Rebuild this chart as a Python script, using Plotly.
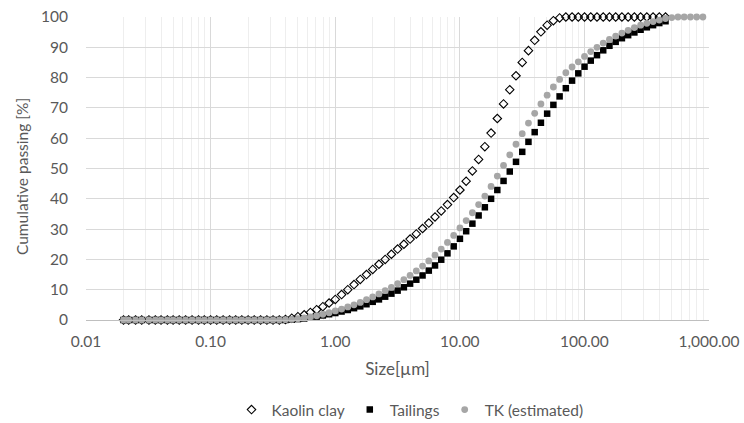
import plotly.graph_objects as go

# Particle size classes [µm]
size_um = [
    0.020, 0.022, 0.025, 0.028, 0.032, 0.036, 0.040, 0.045, 0.050, 0.056,
    0.063, 0.071, 0.080, 0.089, 0.100, 0.112, 0.126, 0.142, 0.159, 0.178,
    0.200, 0.224, 0.252, 0.283, 0.317, 0.356, 0.399, 0.448, 0.502, 0.564,
    0.632, 0.710, 0.796, 0.893, 1.002, 1.125, 1.262, 1.416, 1.589, 1.783,
    2.000, 2.244, 2.518, 2.825, 3.170, 3.557, 3.991, 4.477, 5.024, 5.637,
    6.325, 7.096, 7.962, 8.934, 10.024, 11.247, 12.619, 14.159, 15.887, 17.825,
    20.000, 22.440, 25.179, 28.251, 31.698, 35.566, 39.905, 44.774, 50.238, 56.368,
    63.246, 70.963, 79.621, 89.337, 100.237, 112.468, 126.191, 141.589, 158.866, 178.250,
    200.000, 224.404, 251.785, 282.508, 316.979, 355.656, 399.052, 447.744, 502.377, 563.677,
    632.456, 709.627, 796.214, 893.367,
]

# Cumulative passing [%]
kaolin_clay = [
    0, 0, 0, 0, 0, 0, 0, 0, 0, 0,
    0, 0, 0, 0, 0, 0, 0, 0, 0, 0,
    0, 0, 0, 0, 0, 0, 0.2, 0.6, 1.1, 1.7,
    2.5, 3.4, 4.4, 5.6, 6.8, 8.4, 10.0, 11.7, 13.4, 15.0,
    16.7, 18.4, 20.0, 21.7, 23.4, 25.0, 26.7, 28.4, 30.2, 32.0,
    34.0, 36.0, 38.1, 40.4, 42.9, 45.8, 49.2, 53.0, 57.2, 61.7,
    66.5, 71.3, 76.0, 80.6, 85.0, 88.9, 92.3, 95.1, 97.3, 98.8,
    99.7, 100, 100, 100, 100, 100, 100, 100, 100, 100,
    100, 100, 100, 100, 100, 100, 100, 100,
]

tailings = [
    0, 0, 0, 0, 0, 0, 0, 0, 0, 0,
    0, 0, 0, 0, 0, 0, 0, 0, 0, 0,
    0, 0, 0, 0, 0, 0, 0, 0.1, 0.3, 0.5,
    0.8, 1.1, 1.5, 1.9, 2.3, 2.8, 3.3, 3.9, 4.5, 5.2,
    6.0, 6.8, 7.7, 8.7, 9.7, 10.8, 12.0, 13.3, 14.7, 16.3,
    18.0, 19.9, 22.0, 24.3, 26.8, 29.3, 31.8, 34.5, 37.2, 40.0,
    42.9, 45.9, 49.0, 52.2, 55.5, 58.8, 62.0, 65.1, 68.1, 71.0,
    73.8, 76.5, 79.0, 81.4, 83.6, 85.6, 87.4, 89.0, 90.5, 91.8,
    93.0, 94.0, 94.9, 95.8, 96.6, 97.3, 98.0, 98.6,
]

tk_estimated = [
    0, 0, 0, 0, 0, 0, 0, 0, 0, 0,
    0, 0, 0, 0, 0, 0, 0, 0, 0, 0,
    0, 0, 0, 0, 0, 0, 0.1, 0.2, 0.4, 0.7,
    1.0, 1.4, 1.9, 2.4, 3.0, 3.6, 4.3, 5.0, 5.8, 6.7,
    7.6, 8.6, 9.7, 10.8, 12.0, 13.3, 14.7, 16.2, 17.8, 19.5,
    21.4, 23.4, 25.6, 27.9, 30.4, 32.8, 35.4, 38.1, 40.9, 44.1,
    47.5, 51.0, 54.5, 58.0, 61.5, 65.0, 68.2, 71.3, 74.2, 76.9,
    79.4, 81.6, 83.5, 85.2, 87.0, 88.6, 90.0, 91.4, 92.6, 93.7,
    94.7, 95.6, 96.5, 97.3, 97.9, 98.5, 99.0, 99.5, 99.8, 100,
    100, 100, 100, 100,
]

x_tick_vals = [0.01, 0.1, 1, 10, 100, 1000]
x_tick_text = ["0.01", "0.10", "1.00", "10.00", "100.00", "1,000.00"]
y_tick_vals = [0, 10, 20, 30, 40, 50, 60, 70, 80, 90, 100]

FONT = "Lato"
TEXT = "#595959"

minor_vals = [m * 10 ** e for e in range(-2, 3) for m in range(2, 10)]

fig = go.Figure()
fig.add_trace(go.Scatter(
    x=size_um[:len(kaolin_clay)], y=kaolin_clay, name="Kaolin clay", mode="markers",
    marker=dict(symbol="diamond-open", size=6.5, color="black", line=dict(width=1.1)),
    cliponaxis=False,
))
fig.add_trace(go.Scatter(
    x=size_um[:len(tailings)], y=tailings, name="Tailings", mode="markers",
    marker=dict(symbol="square", size=6.5, color="black"),
    cliponaxis=False,
))
fig.add_trace(go.Scatter(
    x=size_um[:len(tk_estimated)], y=tk_estimated, name="TK (estimated)", mode="markers",
    marker=dict(symbol="circle", size=6.8, color="#a6a6a6"),
    cliponaxis=False,
))

fig.update_layout(
    width=744, height=423,
    margin=dict(l=86, r=35, t=17, b=103, autoexpand=False),
    paper_bgcolor="white", plot_bgcolor="white",
    font=dict(family=FONT, size=15, color=TEXT),
    showlegend=True,
    legend=dict(
        orientation="h", x=410 / 744, xanchor="center", xref="container",
        y=1 - 410 / 423, yanchor="middle", yref="container",
        font=dict(family=FONT, size=15.5, color=TEXT),
        itemwidth=30, tracegroupgap=0,
    ),
    annotations=[dict(
        text="Cumulative passing [%]", textangle=-90,
        xref="paper", yref="paper", x=-64 / 623, y=(320 - 177) / 303,
        xanchor="center", yanchor="middle", showarrow=False,
        font=dict(family=FONT, size=15.5, color=TEXT),
    )],
)
fig.update_xaxes(
    type="log", range=[-2, 3], automargin=False,
    tickmode="array", tickvals=x_tick_vals, ticktext=x_tick_text,
    showgrid=True, gridcolor="#d9d9d9", gridwidth=1,
    minor=dict(tickmode="array", tickvals=minor_vals, showgrid=True,
               gridcolor="#eeeeee", gridwidth=1, ticks=""),
    showline=True, linecolor="#bfbfbf", linewidth=1,
    ticks="", zeroline=False, ticklabelstandoff=7,
    tickfont=dict(family=FONT, size=15.5, color=TEXT),
    title=dict(text="Size[µm]", font=dict(family=FONT, size=17, color=TEXT), standoff=14),
)
fig.update_yaxes(
    range=[0, 100], tickmode="array", tickvals=y_tick_vals, automargin=False,
    showgrid=True, gridcolor="#d9d9d9", gridwidth=1,
    showline=False, zeroline=False, ticks="", ticklabelstandoff=17,
    tickfont=dict(family=FONT, size=15.5, color=TEXT),
)

fig.write_html("out.html", config={"displayModeBar": False})
